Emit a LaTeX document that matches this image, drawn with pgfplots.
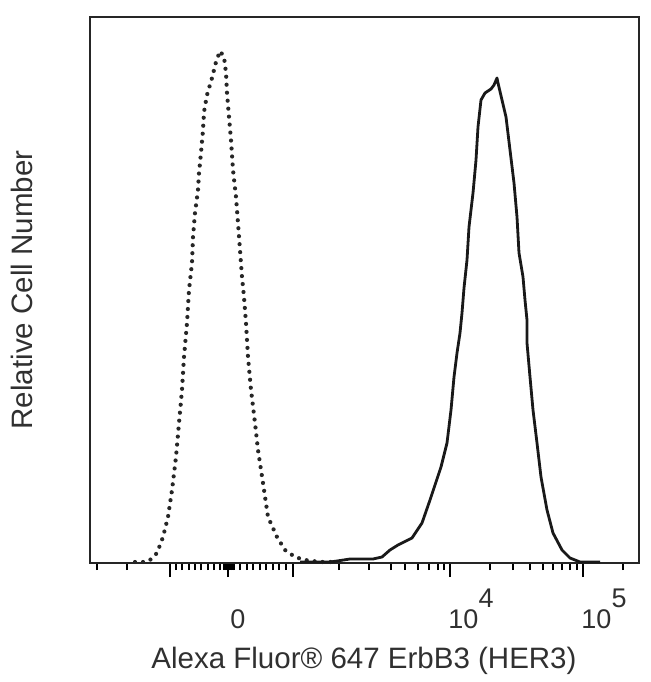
\documentclass[border=0pt]{standalone}
\usepackage{pgfplots}
\pgfplotsset{compat=1.18}
\usepackage{fontspec}
\setmainfont{Liberation Sans}
\definecolor{txt}{HTML}{303030}

\begin{document}
\begin{tikzpicture}
\begin{axis}[
  x=1pt, y=1pt,
  xmin=90, xmax=639, ymin=0, ymax=546,
  clip=false,
  axis line style={line width=1.5pt, black!85},
  ytick=\empty,
  xtick={170,228,293,450,583},
  xticklabels={},
  minor xtick={97,127,176,182,189,195,201,208,214,220,224,226,230,232,234,240,247,253,260,266,273,279,286,339,369,391,405,418,429,438,444,490,513,530,543,553,562,570,577,623},
  tick align=outside,
  xtick pos=left,
  major tick length=14pt,
  minor tick length=7pt,
  major tick style={line width=2.6pt, black},
  minor tick style={line width=1.6pt, black},
  extra x ticks={238,471,604},
  extra x tick labels={\vphantom{\raisebox{0.8em}{4}}0,10\raisebox{0.8em}{4},10\raisebox{0.8em}{5}},
  extra x tick style={major tick length=0pt},
  xticklabel style={font=\fontsize{27}{30}\selectfont, text=txt, yshift=-22pt},
  xlabel={Alexa Fluor® 647 ErbB3 (HER3)},
  ylabel={Relative Cell Number},
  xlabel style={at={(axis cs:364,-98)}, anchor=center, font=\fontsize{29.5}{32}\selectfont, text=txt},
  ylabel style={at={(axis cs:22,273)}, anchor=center, rotate=0, font=\fontsize{29.5}{32}\selectfont, text=txt},
]
% isotype control (dotted)
\addplot[black!85, line width=4.2pt, line cap=round, line join=round, dash pattern=on 0pt off 8pt] coordinates {
(135,1) (145,1) (150,3) (157,10) (163,26) (168,46) (172,73) (176,106) (179,140) (182,173) (184,206) (187,240) (189,273)
(192,300) (193,326) (195,350) (198,373) (199,390) (201,410) (203,433) (204,451) (207,468) (212,485) (216,501) (220,512)
(224,506) (226,490) (227,470) (229,446) (231,423) (233,393) (236,366) (238,340) (240,313) (242,286) (244,266)
(246,240) (248,206) (251,173) (255,140) (258,113) (263,80) (268,46) (277,26) (285,13) (295,6) (305,3) (320,1) (335,1)
};
% ErbB3 stained (solid)
\addplot[black!90, line width=2.8pt, line join=round] coordinates {
(300,1) (330,1) (337,2) (350,4) (373,4) (382,6) (390,13) (398,18) (412,25) (422,40) (430,63) (441,96) (447,120) (451,153)
(454,186) (457,210) (460,230) (462,250) (464,275) (467,303) (469,336) (473,370) (476,403) (478,436) (481,463) (485,470)
(491,474) (494,478) (497,485) (498,480) (502,463) (506,446) (510,413) (514,380) (517,346) (519,310) (523,286) (525,263)
(527,243) (527,220) (530,186) (533,153) (537,120) (541,86) (547,53) (553,30) (562,13) (570,5) (580,1) (600,1)
};
\coordinate (bbA) at (axis cs:0,-119);
\coordinate (bbB) at (axis cs:650,563);
\end{axis}
\pgfresetboundingbox
\path (bbA) rectangle (bbB);
\end{tikzpicture}
\end{document}
